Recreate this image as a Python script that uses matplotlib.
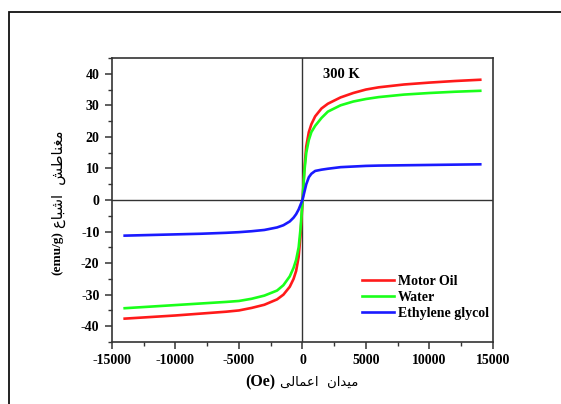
import matplotlib.pyplot as plt
from matplotlib.patches import Rectangle
from matplotlib.ticker import MultipleLocator

# applied field (Oe)
field = [-14000, -12000, -10000, -8000, -6000, -5000, -4000, -3000, -2000, -1500,
         -1000, -700, -500, -300, -150, 0, 150, 300, 500, 700,
         1000, 1500, 2000, 3000, 4000, 5000, 6000, 8000, 10000, 12000, 14000]

# magnetization (emu/g)
motor_oil = [-37.6, -37.1, -36.6, -36.0, -35.4, -35.0, -34.2, -33.2, -31.5, -30.0,
             -27.5, -25.0, -22.5, -18.0, -11.0, -1.0, 10.0, 17.0, 21.5, 24.0,
             26.5, 29.0, 30.5, 32.5, 33.9, 35.0, 35.7, 36.6, 37.2, 37.7, 38.1]
water = [-34.3, -33.8, -33.3, -32.8, -32.3, -32.0, -31.3, -30.3, -28.7, -27.0,
         -24.2, -21.5, -19.0, -15.0, -9.0, -0.5, 9.0, 15.0, 19.0, 21.5,
         23.5, 26.0, 28.0, 30.0, 31.2, 32.0, 32.6, 33.4, 33.9, 34.3, 34.6]
ethylene_glycol = [-11.3, -11.1, -10.9, -10.7, -10.4, -10.2, -9.9, -9.5, -8.7, -8.0,
                   -6.8, -5.6, -4.5, -3.0, -1.5, 0.0, 2.5, 5.0, 7.2, 8.3,
                   9.2, 9.6, 9.9, 10.4, 10.6, 10.8, 10.9, 11.0, 11.1, 11.2, 11.3]

# Persian labels, pre-shaped into visual order (matplotlib has no RTL shaping)
xlabel_fa = "\ufbfd\ufedf\ufe8e\ufee4\ufecb\ufe8d" + "  " + "\ufee5\ufe8d\ufeaa\ufbff\ufee3"
ylabel_fa = "\ufec9\ufe8e\ufe92\ufeb7\ufe8d" + "  " + "\ufeb6\ufec3\ufe8e\ufee8\ufed0\ufee3"

serif = ["Liberation Serif", "DejaVu Serif"]
plt.rcParams["axes.unicode_minus"] = False

fig = plt.figure(figsize=(5.61, 4.04), dpi=100)
ax = fig.add_axes([0.1996, 0.1535, 0.6791, 0.703])

ax.plot(field, motor_oil, color="#ff1a1a", lw=1.9, label="Motor Oil")
ax.plot(field, water, color="#1aff1a", lw=1.9, label="Water")
ax.plot(field, ethylene_glycol, color="#1a1aff", lw=1.9, label="Ethylene glycol")

ax.axhline(0, color="#333333", lw=1.0, zorder=0)
ax.axvline(0, color="#333333", lw=1.0, zorder=0)

ax.set_xlim(-15000, 15000)
ax.set_ylim(-45, 45)
ax.xaxis.set_major_locator(MultipleLocator(5000))
ax.xaxis.set_minor_locator(MultipleLocator(2500))
ax.yaxis.set_major_locator(MultipleLocator(10))
ax.yaxis.set_minor_locator(MultipleLocator(5))
ax.tick_params(which="major", direction="out", length=5, width=1.1, color="#333333", pad=4)
ax.tick_params(which="minor", direction="out", length=3, width=1.0, color="#333333")
for lbl in ax.get_xticklabels() + ax.get_yticklabels():
    lbl.set_fontfamily(serif)
    lbl.set_fontweight("bold")
    lbl.set_fontsize(10)
for sp in ax.spines.values():
    sp.set_color("#333333")
    sp.set_linewidth(1.2)

ax.text(1600, 39.7, "300 K", family=serif, fontweight="bold", fontsize=10.5,
        ha="left", va="center")

leg = ax.legend(loc="upper left", bbox_to_anchor=(0.656, 0.236), frameon=False,
                prop={"family": serif, "weight": "bold", "size": 10},
                handlelength=2.3, handletextpad=0.3, labelspacing=0.2,
                borderpad=0, borderaxespad=0)

# axis labels: bold serif units + Persian words
fig.text(275 / 561, 1 - 382 / 404, "(Oe)", family=serif, fontweight="bold",
         fontsize=11.5, ha="right", va="center")
fig.text(280 / 561, 1 - 382 / 404, xlabel_fa, family="DejaVu Sans", fontsize=9.5,
         ha="left", va="center")
fig.text(57 / 561, 1 - 231 / 404, "(emu/g)", family=serif, fontweight="bold",
         fontsize=9.5, rotation=90, ha="center", va="top")
fig.text(59 / 561, 1 - 228 / 404, ylabel_fa, family="DejaVu Sans", fontsize=10.5,
         rotation=90, ha="center", va="bottom")

# outer frame of the original figure
fig.patches.append(Rectangle((9 / 561, -0.1), 1.2, 1 - 12 / 404 + 0.1,
                             transform=fig.transFigure, fill=False,
                             edgecolor="#111111", lw=1.3))

fig.savefig("out.png", dpi=100)
